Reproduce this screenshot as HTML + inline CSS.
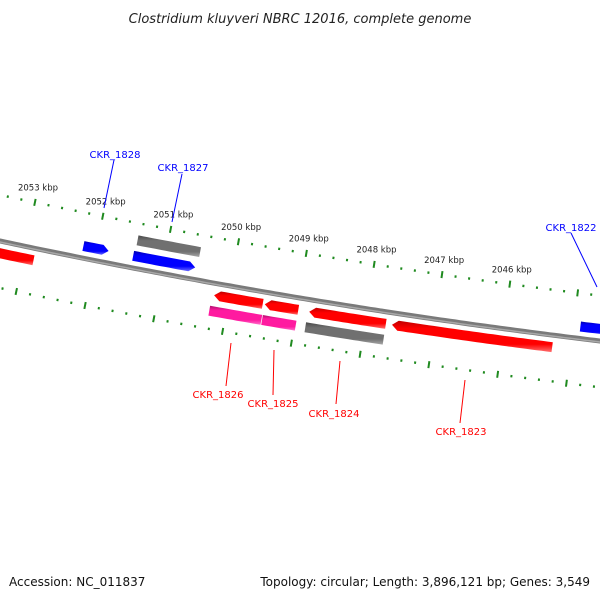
<!DOCTYPE html>
<html><head><meta charset="utf-8"><style>
body{margin:0;background:#fff}
svg{display:block;font-family:"DejaVu Sans","Liberation Sans",sans-serif}
</style></head><body>
<svg id="map" width="600" height="600" viewBox="0 0 600 600" xmlns="http://www.w3.org/2000/svg">
<defs>
<linearGradient id="gRed" x1="0" y1="0" x2="0" y2="1"><stop offset="0" stop-color="#c00000"/><stop offset="0.25" stop-color="#ff0000"/><stop offset="0.75" stop-color="#ff0000"/><stop offset="1" stop-color="#ff7070"/></linearGradient>
<linearGradient id="gBlue" x1="0" y1="0" x2="0" y2="1"><stop offset="0" stop-color="#0000b0"/><stop offset="0.25" stop-color="#0000ff"/><stop offset="0.75" stop-color="#0000ff"/><stop offset="1" stop-color="#6a6aff"/></linearGradient>
<linearGradient id="gGray" x1="0" y1="0" x2="0" y2="1"><stop offset="0" stop-color="#4a4a4a"/><stop offset="0.25" stop-color="#707070"/><stop offset="0.75" stop-color="#707070"/><stop offset="1" stop-color="#a8a8a8"/></linearGradient>
<linearGradient id="gPink" x1="0" y1="0" x2="0" y2="1"><stop offset="0" stop-color="#b0106e"/><stop offset="0.25" stop-color="#ff1aa0"/><stop offset="0.75" stop-color="#ff1aa0"/><stop offset="1" stop-color="#ff70cc"/></linearGradient>
</defs>
<text x="300" y="23" text-anchor="middle" font-size="13" font-style="italic" fill="#222">Clostridium kluyveri NBRC 12016, complete genome</text>
<g id="layer"></g>
<text x="9" y="586" font-size="12" fill="#111">Accession: NC_011837</text>
<text x="590" y="586" font-size="12" text-anchor="end" fill="#111">Topology: circular; Length: 3,896,121 bp; Genes: 3,549</text>
</svg>
<script>
const geneNames = ["", "CKR_1828", "", "CKR_1827", "CKR_1826", "", "CKR_1825", "", "CKR_1824", "", "CKR_1823", "CKR_1822"];
const geneStartKbp = [2053.6, 2052.19, 2051.44, 2051.46, 2050.21, 2050.24, 2049.47, 2049.47, 2048.82, 2048.84, 2047.61, 2044.90];
const geneEndKbp   = [2052.85, 2051.82, 2050.52, 2050.55, 2049.50, 2049.48, 2048.98, 2048.98, 2047.70, 2047.70, 2045.27, 2044.30];
const geneStrand = [-1, 1, 1, 1, -1, -1, -1, -1, -1, -1, -1, 1];
const geneRow = [1, 1, 2, 1, 1, 2, 1, 2, 1, 2, 1, 1];
const geneKind = ["red","blue","gray","blue","red","pink","red","pink","red","gray","red","blue"];
const majorTickKbp = [2054,2053,2052,2051,2050,2049,2048,2047,2046,2045,2044];
const labeledTickKbp = [2053,2052,2051,2050,2049,2048,2047,2046];

const NS="http://www.w3.org/2000/svg";
const layer=document.getElementById('layer');
const A=241,B=0.2133,C=-7.78e-5;
function yb(u){return A+B*u+C*u*u;}
function ang(u){return Math.atan(B+2*C*u);}
function pt(u,d){const t=ang(u);return [u-d*Math.sin(t), yb(u)+d*Math.cos(t)];}
function kToU(k){return 94+(2052-k)*68.3;}
function mk(tag,attrs){const e=document.createElementNS(NS,tag);for(const k in attrs)e.setAttribute(k,attrs[k]);layer.appendChild(e);return e;}

let dpath="";for(let u=-20;u<=640;u+=5){const p=pt(u,0);dpath+=(u===-20?"M":"L")+p[0].toFixed(1)+","+p[1].toFixed(1);}
const bb=mk('path',{d:dpath,stroke:'#7a7a7a','stroke-width':5,fill:'none'});


const bb2=mk('path',{d:dpath,stroke:'#a8a8a8','stroke-width':1.5,fill:'none',transform:'translate(0,1)'});



const rings=[-45,46];
for(const d of rings){
  for(let i=0;i<=50;i++){
    const k=2054-i*0.2;const u=kToU(k);
    const major=majorTickKbp.some(m=>Math.abs(k-m)<1e-6);
    const h=major?3.5:1.2;
    const p1=pt(u,d-h),p2=pt(u,d+h);
    const l=mk('line',{x1:p1[0],y1:p1[1],x2:p2[0],y2:p2[1],stroke:'#1f8a1f','stroke-width':2});
    
    
  }
}
labeledTickKbp.forEach(k=>{
  const u=kToU(k);const p=pt(u,-60);
  const t=mk('text',{x:p[0].toFixed(1),y:(p[1]+3).toFixed(1),'text-anchor':'middle','font-size':'8.5',fill:'#222'});
  t.textContent=k+" kbp";
  
  
});

const fills={red:'url(#gRed)',blue:'url(#gBlue)',gray:'url(#gGray)',pink:'url(#gPink)'};
const halfW=5;
geneStartKbp.forEach((sk,i)=>{
  const ek=geneEndKbp[i];
  let u0=kToU(sk),u1=kToU(ek);if(u0>u1){const t=u0;u0=u1;u1=t;}
  const strand=geneStrand[i];
  const center=-strand*(geneRow[i]===1?12:28);
  const arrow=geneKind[i]!=='gray'&&geneKind[i]!=='pink';
  const h=arrow?6:0;
  const a0=strand<0?u0+h:u0, a1=strand>0?u1-h:u1;
  const top=[],bot=[];
  const n=Math.max(4,Math.ceil((a1-a0)/5));
  for(let j=0;j<=n;j++){const u=a0+(a1-a0)*j/n;top.push(pt(u,center-halfW));bot.push(pt(u,center+halfW));}
  let pts=[...top];
  if(arrow&&strand>0)pts.push(pt(u1,center));
  pts=pts.concat(bot.reverse());
  if(arrow&&strand<0)pts.push(pt(u0,center));
  const p=mk('polygon',{points:pts.map(q=>q[0].toFixed(1)+","+q[1].toFixed(1)).join(" "),fill:fills[geneKind[i]]});
  
  
});

const labels=[
 {name:"CKR_1828",col:"#0000ff",tx:115,ty:158,lx1:114,ly1:160,lx2:104,ly2:208},
 {name:"CKR_1827",col:"#0000ff",tx:183,ty:171,lx1:182,ly1:174,lx2:172,ly2:222},
 {name:"CKR_1822",col:"#0000ff",tx:571,ty:231,lx1:571,ly1:233,lx2:597,ly2:287},
 {name:"CKR_1826",col:"#ff0000",tx:218,ty:398,lx1:231,ly1:343,lx2:226,ly2:386},
 {name:"CKR_1825",col:"#ff0000",tx:273,ty:407,lx1:274,ly1:350,lx2:273,ly2:395},
 {name:"CKR_1824",col:"#ff0000",tx:334,ty:417,lx1:340,ly1:361,lx2:336,ly2:404},
 {name:"CKR_1823",col:"#ff0000",tx:461,ty:435,lx1:465,ly1:380,lx2:460,ly2:423}
];
labels.forEach(L=>{
  const ln=mk('line',{x1:L.lx1,y1:L.ly1,x2:L.lx2,y2:L.ly2,stroke:L.col,'stroke-width':1});
  
  
  const t=mk('text',{x:L.tx,y:L.ty,'text-anchor':'middle','font-size':'10',fill:L.col});
  t.textContent=L.name;
  
  
});
</script>
</body></html>
